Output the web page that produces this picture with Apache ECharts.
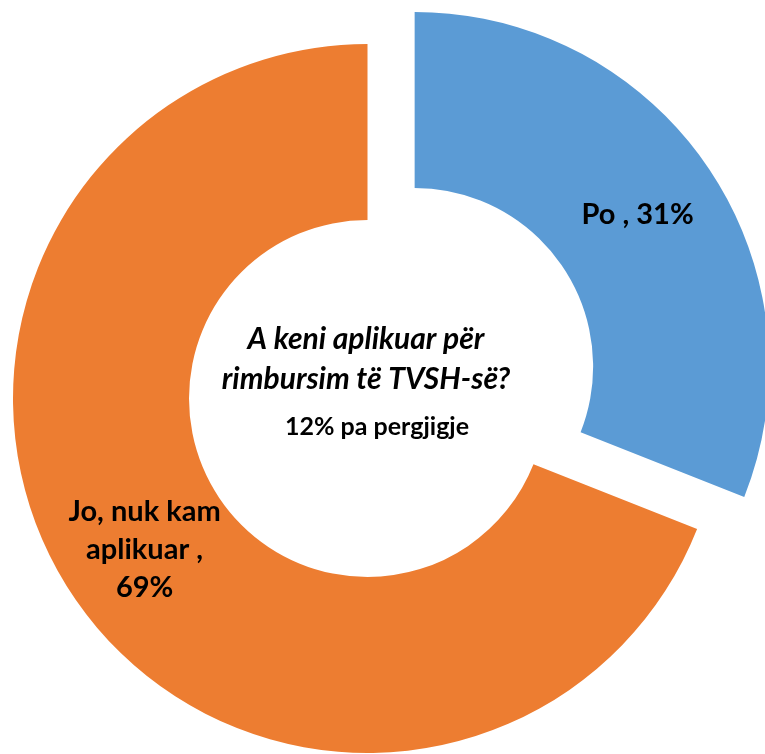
<!DOCTYPE html>
<html>
<head>
    <meta charset="utf-8"/>
    <title>Rimbursim TVSH</title>
    <script type="text/javascript" src="https://cdn.jsdelivr.net/npm/echarts@6/dist/echarts.min.js"></script>
    <style>
        html, body { margin: 0; padding: 0; background: #fff; }
    </style>
</head>
<body>
<div id="main" style="width: 765px;height:754px;"></div>
<script type="text/javascript">
    // te dhenat
    var categories = ['Po', 'Jo, nuk kam\naplikuar'];
    var values = [31, 69];
    var colors = ['#5B9BD5', '#ED7D31'];
    var question = 'A keni aplikuar për\nrimbursim të TVSH-së?';
    var noAnswer = '12% pa pergjigje';

    var pieData = [];
    for (var i = 0; i < categories.length; i++) {
        pieData.push({
            name: categories[i],
            value: values[i],
            selected: i === 0,
            itemStyle: {color: colors[i]}
        });
    }

    var myChart = echarts.init(document.getElementById('main'));
    var option = {
        animation: false,
        graphic: [
            {
                type: 'text',
                x: 366,
                y: 359,
                style: {
                    text: question,
                    font: 'italic bold 30px Lato',
                    lineHeight: 40,
                    textAlign: 'center',
                    textVerticalAlign: 'middle',
                    fill: '#000'
                }
            },
            {
                type: 'text',
                x: 377,
                y: 427,
                style: {
                    text: noAnswer,
                    font: 'bold 25px Lato',
                    textAlign: 'center',
                    textVerticalAlign: 'middle',
                    fill: '#000'
                }
            }
        ],
        series: [
            {
                type: 'pie',
                center: [367.5, 398.5],
                radius: [178.5, 354.5],
                startAngle: 90,
                clockwise: true,
                selectedMode: 'single',
                selectedOffset: 57,
                label: {
                    show: true,
                    position: 'inside',
                    formatter: function (p) {
                        return p.dataIndex === 0 ? p.name + ' , ' + p.value + '%' : p.name + ' ,\n' + p.value + '%';
                    },
                    color: '#000',
                    fontFamily: 'Lato',
                    fontWeight: 'bold',
                    fontSize: 29,
                    lineHeight: 38
                },
                labelLine: {show: false},
                emphasis: {disabled: true},
                data: pieData
            }
        ]
    };
    myChart.setOption(option);
</script>
</body>
</html>
